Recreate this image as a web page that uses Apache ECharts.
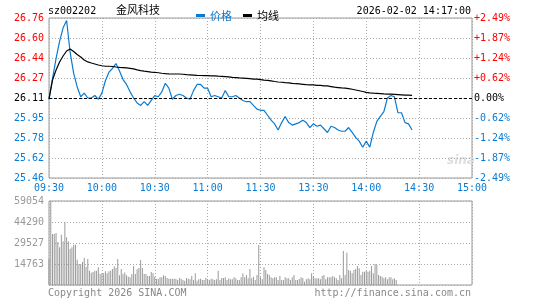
<!DOCTYPE html>
<html>
<head>
<meta charset="utf-8">
<script src="https://cdn.jsdelivr.net/npm/echarts@6/dist/echarts.min.js"></script>
<style>
    html, body {margin:0;padding:0;background:#ffffff;}
    #echarts-records {width:545px;height:300px;}
</style>
</head>
<body>
<div id="echarts-records"></div>
<script>
    // 分时数据 (每2分钟一个点)
    var prices = [
        26.10, 26.27, 26.43, 26.57, 26.68, 26.74, 26.48, 26.31, 26.20, 26.12,
        26.15, 26.11, 26.11, 26.13, 26.10, 26.15, 26.25, 26.32, 26.35, 26.39,
        26.33, 26.26, 26.22, 26.16, 26.11, 26.07, 26.05, 26.08, 26.05, 26.09,
        26.13, 26.12, 26.16, 26.23, 26.19, 26.10, 26.13, 26.14, 26.13, 26.11,
        26.10, 26.17, 26.22, 26.22, 26.19, 26.19, 26.12, 26.13, 26.12, 26.11,
        26.17, 26.12, 26.12, 26.13, 26.11, 26.09, 26.08, 26.08, 26.05, 26.02,
        26.01, 26.01, 25.97, 25.93, 25.90, 25.85, 25.91, 25.96, 25.91, 25.89,
        25.90, 25.91, 25.93, 25.91, 25.87, 25.90, 25.88, 25.89, 25.86, 25.83,
        25.88, 25.87, 25.85, 25.84, 25.84, 25.87, 25.83, 25.79, 25.76, 25.71,
        25.76, 25.71, 25.83, 25.92, 25.96, 26.00, 26.11, 26.13, 26.12, 25.99,
        25.99, 25.91, 25.90, 25.85
    ];
    var avgPrices = [
        26.102, 26.256, 26.338, 26.403, 26.451, 26.492, 26.508, 26.488, 26.463, 26.443,
        26.419, 26.403, 26.394, 26.386, 26.378, 26.372, 26.368, 26.368, 26.366, 26.362,
        26.359, 26.357, 26.354, 26.351, 26.346, 26.339, 26.333, 26.328, 26.325, 26.321,
        26.319, 26.315, 26.311, 26.308, 26.306, 26.305, 26.305, 26.305, 26.303, 26.300,
        26.298, 26.296, 26.294, 26.293, 26.292, 26.291, 26.289, 26.289, 26.287, 26.286,
        26.284, 26.281, 26.278, 26.276, 26.273, 26.271, 26.269, 26.267, 26.264, 26.263,
        26.260, 26.256, 26.253, 26.249, 26.244, 26.240, 26.238, 26.235, 26.233, 26.229,
        26.226, 26.224, 26.221, 26.218, 26.216, 26.216, 26.213, 26.212, 26.209, 26.208,
        26.203, 26.198, 26.195, 26.192, 26.190, 26.186, 26.181, 26.175, 26.169, 26.163,
        26.156, 26.152, 26.149, 26.147, 26.145, 26.143, 26.142, 26.141, 26.140, 26.138,
        26.136, 26.134, 26.134, 26.132
    ];
    var priceStep = 2;

    // 成交量 (每分钟)
    var volumes = [
        18280, 59054, 35850, 35850, 36560, 30200, 26500, 35380, 30700, 44290,
        33500, 30700, 25540, 26500, 28350, 28350, 17810, 14760, 14760, 16170,
        18980, 12900, 18280, 10080, 8670, 9140, 10080, 10080, 12420, 7730,
        8200, 8200, 9600, 8200, 9610, 10080, 11250, 13120, 11950, 18280,
        6800, 11250, 7730, 8700, 6800, 5860, 5390, 7730, 13360, 7730,
        11010, 11950, 17580, 11950, 7730, 7730, 6330, 6330, 9140, 8200,
        5860, 4220, 4450, 5390, 5390, 6800, 6330, 4920, 4450, 4450,
        4450, 4450, 4450, 3520, 4920, 4450, 3520, 3050, 4920, 4450,
        3980, 6330, 3520, 8200, 3050, 3980, 4450, 3520, 3520, 4920,
        3980, 3520, 4450, 3980, 3520, 3980, 10080, 3520, 4920, 4920,
        5390, 3520, 4690, 3980, 3980, 5390, 4690, 3520, 3520, 5390,
        8200, 5390, 7030, 4690, 11250, 4690, 5860, 3520, 7030, 28120,
        5390, 3980, 12420, 10540, 7730, 7030, 5390, 4690, 5390, 5390,
        3520, 6330, 3520, 3520, 5390, 4690, 4690, 3520, 5390, 7030,
        3520, 3520, 4220, 5390, 4920, 2340, 3980, 4690, 3980, 8200,
        6330, 4690, 4690, 4690, 3980, 6330, 7030, 3980, 5390, 5390,
        5390, 6330, 5390, 4690, 3520, 7030, 4690, 23900, 7030, 22730,
        10540, 10080, 8200, 10540, 11250, 13360, 11720, 7030, 9370, 9370,
        10080, 9370, 10080, 13360, 8200, 14760, 14060, 7030, 6330, 5860,
        4690, 5390, 3980, 5390, 5390, 3980, 4690, 3520
    ];

    var timeLabels = ['09:30', '10:00', '10:30', '11:00', '11:30', '13:30', '14:00', '14:30', '15:00'];
    var priceTicks = ['25.46', '25.62', '25.78', '25.95', '26.11', '26.27', '26.44', '26.60', '26.76'];
    var pctTicks = ['-2.49%', '-1.87%', '-1.24%', '-0.62%', '0.00%', '+0.62%', '+1.24%', '+1.87%', '+2.49%'];
    var volTicks = ['', '14763', '29527', '44290', '59054'];
    var prevClose = 26.11;

    var BLUE = '#0a7bd2', RED = '#ff0000', GRAY = '#999999';
    var MONO = '"DejaVu Sans Mono", monospace';
    var CJK = '"Noto Sans CJK SC", sans-serif';

    function tickColor(i) {
        if (i < 4) return BLUE;
        if (i > 4) return RED;
        return '#000000';
    }

    var priceData = [], avgData = [], volData = [];
    for (var i = 0; i < prices.length; i++) priceData.push([i * priceStep, prices[i]]);
    for (var j = 0; j < avgPrices.length; j++) avgData.push([j * priceStep, avgPrices[j]]);
    for (var k = 0; k < volumes.length; k++) volData.push([k, volumes[k]]);

    var dotted = {color: '#aaaaaa', type: [1, 2], width: 1};

    var echartsRecords = echarts.init(document.getElementById('echarts-records'), null, {renderer: 'canvas'});

    var optionRecords = {
        animation: false,
        backgroundColor: '#ffffff',
        legend: {
            left: 191, top: 5,
            itemWidth: 9, itemHeight: 3, itemGap: 11,
            icon: 'rect',
            textStyle: {fontFamily: CJK, fontSize: 11},
            data: [
                {name: '价格', textStyle: {color: BLUE}},
                {name: '均线', textStyle: {color: '#000000'}}
            ]
        },
        grid: [
            {left: 49, top: 18, width: 423, height: 160, show: true, borderColor: GRAY, borderWidth: 1},
            {left: 49, top: 201, width: 423, height: 84, show: true, borderColor: GRAY, borderWidth: 1}
        ],
        xAxis: [
            {
                type: 'value', gridIndex: 0, min: 0, max: 240, interval: 30,
                axisLine: {show: false}, axisTick: {show: false},
                axisLabel: {
                    margin: 5, color: BLUE, fontSize: 10, fontFamily: MONO,
                    formatter: function (v) { return timeLabels[Math.round(v / 30)]; }
                },
                splitLine: {show: true, lineStyle: dotted}
            },
            {
                type: 'value', gridIndex: 1, min: 0, max: 240, interval: 30,
                axisLine: {show: false}, axisTick: {show: false}, axisLabel: {show: false},
                splitLine: {show: true, lineStyle: dotted}
            }
        ],
        yAxis: [
            {type: 'value', gridIndex: 0, min: 25.46, max: 26.76, show: false, splitLine: {show: false}},
            {
                type: 'category', gridIndex: 0, position: 'left', data: priceTicks, boundaryGap: false,
                axisLine: {show: false}, axisTick: {show: false},
                axisLabel: {
                    interval: 0, margin: 5, fontSize: 10, fontFamily: MONO,
                    color: function (v, i) { return tickColor(priceTicks.indexOf(v)); }
                },
                splitLine: {show: true, interval: 0, lineStyle: dotted}
            },
            {
                type: 'category', gridIndex: 0, position: 'right', data: pctTicks, boundaryGap: false,
                axisLine: {show: false}, axisTick: {show: false},
                axisLabel: {
                    interval: 0, margin: 2, fontSize: 10, fontFamily: MONO,
                    color: function (v, i) { return tickColor(pctTicks.indexOf(v)); }
                },
                splitLine: {show: false}
            },
            {
                type: 'value', gridIndex: 1, min: 0, max: 59054, interval: 14763.5,
                axisLine: {show: false}, axisTick: {show: false},
                axisLabel: {
                    margin: 5, color: GRAY, fontSize: 10, fontFamily: MONO,
                    formatter: function (v) { return volTicks[Math.round(v / 14763.5)]; }
                },
                splitLine: {show: true, lineStyle: dotted}
            }
        ],
        series: [
            {
                name: '价格', type: 'line', xAxisIndex: 0, yAxisIndex: 0,
                data: priceData, showSymbol: false, symbol: 'none',
                lineStyle: {color: BLUE, width: 1.2}, itemStyle: {color: BLUE},
                z: 3,
                markLine: {
                    silent: true, symbol: 'none', label: {show: false},
                    lineStyle: {color: '#000000', type: [3, 2], width: 1},
                    data: [{yAxis: prevClose}]
                }
            },
            {
                name: '均线', type: 'line', xAxisIndex: 0, yAxisIndex: 0,
                data: avgData, showSymbol: false, symbol: 'none',
                lineStyle: {color: '#000000', width: 1.2}, itemStyle: {color: '#000000'},
                z: 4
            },
            {
                name: '成交量', type: 'bar', xAxisIndex: 1, yAxisIndex: 3,
                data: volData, barWidth: 1, itemStyle: {color: GRAY}
            }
        ],
        graphic: [
            {type: 'text', left: 48, top: 6, style: {text: 'sz002202', font: '10px ' + MONO, fill: '#000000'}},
            {type: 'text', left: 116, top: 4, style: {text: '金风科技', font: '11px ' + CJK, fill: '#000000'}},
            {type: 'text', right: 74, top: 6, style: {text: '2026-02-02 14:17:00', font: '10px ' + MONO, fill: '#000000'}},
            {type: 'text', left: 447, top: 155, style: {text: 'sina', font: 'italic bold 12px "DejaVu Sans", sans-serif', fill: '#dddddd'}},
            {type: 'text', left: 48, top: 288, style: {text: 'Copyright 2026 SINA.COM', font: '10px ' + MONO, fill: '#888888'}},
            {type: 'text', right: 74, top: 288, style: {text: 'http://finance.sina.com.cn', font: '10px ' + MONO, fill: '#888888'}}
        ]
    };
    echartsRecords.setOption(optionRecords);
</script>
</body>
</html>
